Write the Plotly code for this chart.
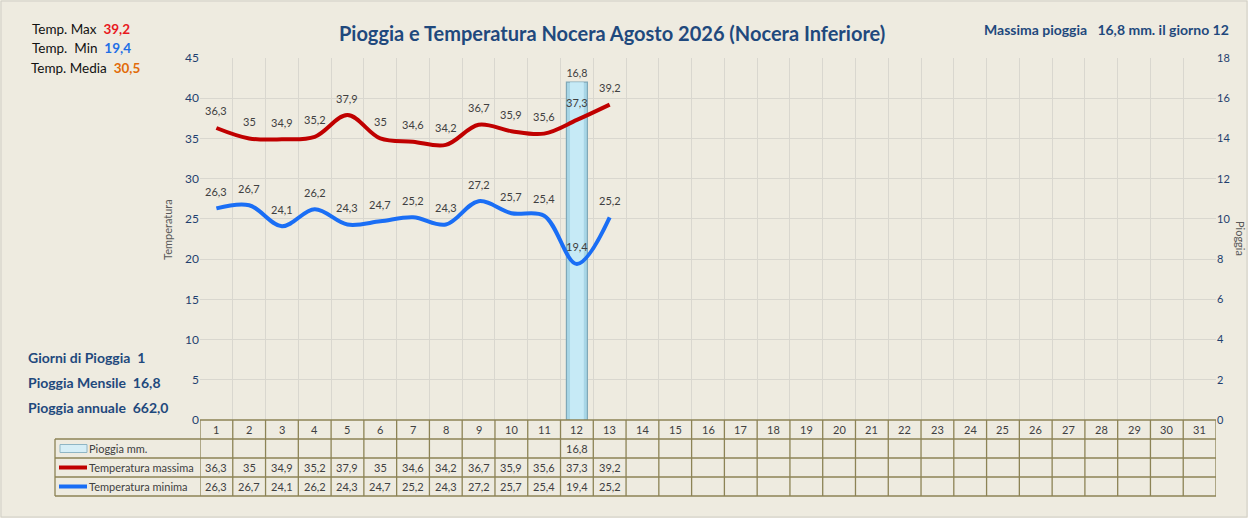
import plotly.graph_objects as go

# ---------------- data ----------------
days = list(range(1, 32))
data_days = list(range(1, 14))
temp_max = [36.3, 35, 34.9, 35.2, 37.9, 35, 34.6, 34.2, 36.7, 35.9, 35.6, 37.3, 39.2]
temp_min = [26.3, 26.7, 24.1, 26.2, 24.3, 24.7, 25.2, 24.3, 27.2, 25.7, 25.4, 19.4, 25.2]
rain_days = [12]
rain_mm = [16.8]
left_ticks = [0, 5, 10, 15, 20, 25, 30, 35, 40, 45]
right_ticks = [0, 2, 4, 6, 8, 10, 12, 14, 16, 18]
row_labels = ["Pioggia mm.", "Temperatura massima", "Temperatura minima"]

title = "Pioggia e Temperatura Nocera Agosto 2026 (Nocera Inferiore)"
stat_max, stat_min, stat_media = "39,2", "19,4", "30,5"
giorni_pioggia, pioggia_mensile, pioggia_annuale = "1", "16,8", "662,0"
max_rain_text = "Massima pioggia&nbsp;&nbsp; 16,8 mm. il giorno 12"

# ---------------- style ----------------
W, H = 1248, 518
ML, MR, MT, MB = 200, 32, 58, 98
PW, PH = W - ML - MR, H - MT - MB
BG = "#EEEBE0"
GRID = "#D9D7CF"
TABLE = "#8C8356"
FONT = "Lato"
RED = "#C00000"
BLUE = "#1A6EF5"
DARKBLUE = "#1F497D"
TXT = "#404040"
ROW_H = 19.0 / PH


def px(xp):
    return (xp - ML) / PW


def py(yp):
    return (H - MB - yp) / PH


def fmt(v):
    return f"{v:g}".replace(".", ",")


fig = go.Figure()

# rain bar (primary axis, right side) - drawn underneath the temperature lines
fig.add_trace(go.Bar(
    x=rain_days, y=rain_mm, yaxis="y", width=0.64,
    marker=dict(color="#A8D6E6", line=dict(color="#7FA8B8", width=1.2)),
    text=[fmt(v) for v in rain_mm], textposition="outside",
    textfont=dict(family=FONT, size=11, color=TXT), cliponaxis=False,
    name="Pioggia mm.", showlegend=False,
))
fig.add_trace(go.Bar(
    x=rain_days, y=rain_mm, yaxis="y", width=0.42,
    marker=dict(color="#C6EAF6", line=dict(width=0)),
    showlegend=False, hoverinfo="skip",
))
fig.add_trace(go.Scatter(
    x=data_days, y=temp_max, yaxis="y2", mode="lines",
    line=dict(color=RED, width=4, shape="spline", smoothing=1.0),
    name="Temperatura massima", showlegend=False,
))
fig.add_trace(go.Scatter(
    x=data_days, y=temp_min, yaxis="y2", mode="lines",
    line=dict(color=BLUE, width=4, shape="spline", smoothing=1.0),
    name="Temperatura minima", showlegend=False,
))

annotations = []
# data labels
for d, v in zip(data_days, temp_max):
    annotations.append(dict(x=d, y=v, xref="x", yref="y2", text=fmt(v), showarrow=False,
                            yshift=17, font=dict(family=FONT, size=11, color=TXT)))
for d, v in zip(data_days, temp_min):
    annotations.append(dict(x=d, y=v, xref="x", yref="y2", text=fmt(v), showarrow=False,
                            yshift=17, font=dict(family=FONT, size=11, color=TXT)))

shapes = []
# ---------------- data table ----------------
table_rows = [[""] * 31, [""] * 31, [""] * 31]
for d, v in zip(rain_days, rain_mm):
    table_rows[0][d - 1] = fmt(v)
for d, v in zip(data_days, temp_max):
    table_rows[1][d - 1] = fmt(v)
for d, v in zip(data_days, temp_min):
    table_rows[2][d - 1] = fmt(v)

for d in days:
    annotations.append(dict(x=d, y=-0.5 * ROW_H, xref="x", yref="paper", text=str(d),
                            showarrow=False, yanchor="middle",
                            font=dict(family=FONT, size=11, color=TXT)))
    for r in range(3):
        if table_rows[r][d - 1]:
            annotations.append(dict(x=d, y=-(r + 1.5) * ROW_H, xref="x", yref="paper",
                                    text=table_rows[r][d - 1], showarrow=False, yanchor="middle",
                                    font=dict(family=FONT, size=11, color=TXT)))

label_left = px(55)
shapes.append(dict(type="line", xref="x", yref="paper", x0=0.5, x1=31.5, y0=0, y1=0,
                   line=dict(color=TABLE, width=1.3)))
for r in range(1, 5):
    shapes.append(dict(type="line", xref="paper", yref="paper", x0=label_left, x1=1,
                       y0=-r * ROW_H, y1=-r * ROW_H, line=dict(color=TABLE, width=1.3)))
for b in range(0, 32):
    shapes.append(dict(type="line", xref="x", yref="paper", x0=b + 0.5, x1=b + 0.5,
                       y0=0, y1=-4 * ROW_H, line=dict(color=TABLE, width=1.3)))
shapes.append(dict(type="line", xref="paper", yref="paper", x0=label_left, x1=label_left,
                   y0=-ROW_H, y1=-4 * ROW_H, line=dict(color=TABLE, width=1.3)))

# row legend keys
shapes.append(dict(type="rect", xref="paper", yref="paper", x0=px(60), x1=px(87),
                   y0=-1.5 * ROW_H - 4 / PH, y1=-1.5 * ROW_H + 4 / PH,
                   fillcolor="#D6EEF6", line=dict(color="#8FB5C4", width=1)))
shapes.append(dict(type="line", xref="paper", yref="paper", x0=px(59), x1=px(87),
                   y0=-2.5 * ROW_H, y1=-2.5 * ROW_H, line=dict(color=RED, width=4)))
shapes.append(dict(type="line", xref="paper", yref="paper", x0=px(59), x1=px(87),
                   y0=-3.5 * ROW_H, y1=-3.5 * ROW_H, line=dict(color=BLUE, width=4)))
for r, lab in enumerate(row_labels):
    annotations.append(dict(x=px(87), y=-(r + 1.5) * ROW_H, xref="paper", yref="paper",
                            text=lab, showarrow=False, xanchor="left", yanchor="middle",
                            font=dict(family=FONT, size=11, color=TXT)))

# outer border
shapes.append(dict(type="rect", xref="paper", yref="paper",
                   x0=px(1), x1=px(W - 1), y0=py(H - 1), y1=py(1),
                   line=dict(color="#D0CEC6", width=1), layer="below"))

# ---------------- side texts ----------------
annotations += [
    dict(x=px(30), y=py(29), xref="paper", yref="paper", xanchor="left", yanchor="middle",
         showarrow=False, font=dict(family=FONT, size=13.5, color="#111111"),
         text=f"Temp. Max  <b><span style='color:#E8191E'>{stat_max}</span></b>"),
    dict(x=px(30), y=py(48), xref="paper", yref="paper", xanchor="left", yanchor="middle",
         showarrow=False, font=dict(family=FONT, size=13.5, color="#111111"),
         text=f"Temp.  Min  <b><span style='color:#1F6FE6'>{stat_min}</span></b>"),
    dict(x=px(29), y=py(68), xref="paper", yref="paper", xanchor="left", yanchor="middle",
         showarrow=False, font=dict(family=FONT, size=13.5, color="#111111"),
         text=f"Temp. Media  <b><span style='color:#E26B0A'>{stat_media}</span></b>"),
    dict(x=px(26), y=py(357), xref="paper", yref="paper", xanchor="left", yanchor="middle",
         showarrow=False, font=dict(family=FONT, size=14, color=DARKBLUE),
         text=f"<b>Giorni di Pioggia  {giorni_pioggia}</b>"),
    dict(x=px(26), y=py(382), xref="paper", yref="paper", xanchor="left", yanchor="middle",
         showarrow=False, font=dict(family=FONT, size=14, color=DARKBLUE),
         text=f"<b>Pioggia Mensile  {pioggia_mensile}</b>"),
    dict(x=px(26), y=py(407), xref="paper", yref="paper", xanchor="left", yanchor="middle",
         showarrow=False, font=dict(family=FONT, size=14, color=DARKBLUE),
         text=f"<b>Pioggia annuale  {pioggia_annuale}</b>"),
    dict(x=px(1231), y=py(29), xref="paper", yref="paper", xanchor="right", yanchor="middle",
         showarrow=False, font=dict(family=FONT, size=14, color=DARKBLUE),
         text=f"<b>{max_rain_text}</b>"),
    dict(x=px(612), y=py(33), xref="paper", yref="paper", xanchor="center", yanchor="middle",
         showarrow=False, font=dict(family=FONT, size=20, color=DARKBLUE),
         text=f"<b>{title}</b>"),
    dict(x=px(167), y=py(230), xref="paper", yref="paper", xanchor="center", yanchor="middle",
         showarrow=False, textangle=-90, font=dict(family=FONT, size=11, color="#595959"),
         text="Temperatura"),
    dict(x=px(1240), y=py(238), xref="paper", yref="paper", xanchor="center", yanchor="middle",
         showarrow=False, textangle=90, font=dict(family=FONT, size=11, color="#595959"),
         text="Pioggia"),
]

fig.update_layout(
    width=W, height=H,
    margin=dict(l=ML, r=MR, t=MT, b=MB, autoexpand=False),
    paper_bgcolor=BG, plot_bgcolor=BG,
    showlegend=False,
    barmode="overlay",
    hovermode=False,
    xaxis=dict(range=[0.5, 31.5], tickvals=[b + 0.5 for b in range(32)], showticklabels=False,
               showgrid=True, gridcolor=GRID, gridwidth=1, zeroline=False, showline=False,
               ticks="", fixedrange=True),
    yaxis=dict(range=[0, 18], tickvals=right_ticks, side="right",
               showgrid=True, gridcolor=GRID, gridwidth=1, zeroline=False, showline=False,
               ticks="", tickfont=dict(family=FONT, size=11, color="#1F3F6F")),
    yaxis2=dict(range=[0, 45], tickvals=left_ticks, overlaying="y", side="left",
                showgrid=False, zeroline=False, showline=False, ticks="",
                tickfont=dict(family=FONT, size=12, color="#1F3F6F")),
    annotations=annotations,
    shapes=shapes,
)

fig.write_html("out.html", config={"displayModeBar": False},
               post_script="document.body.style.margin='0';")
